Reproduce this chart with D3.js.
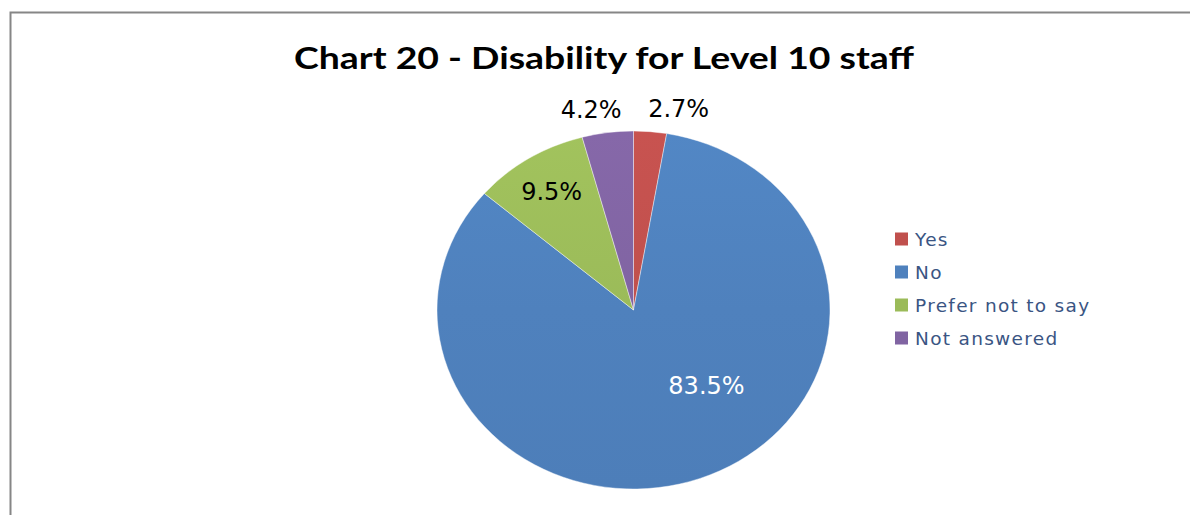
<!DOCTYPE html>
<html>
<head>
<meta charset="utf-8">
<script src="https://cdn.jsdelivr.net/npm/d3@7"></script>
<style>
  html, body { margin: 0; padding: 0; background: #fff; }
  svg { display: block; }
</style>
</head>
<body>
<svg id="chart" width="1190" height="515"></svg>
<script>
const categories = ["Yes", "No", "Prefer not to say", "Not answered"];
const values = [2.7, 83.5, 9.5, 4.2];
const labels = ["2.7%", "83.5%", "9.5%", "4.2%"];
const colors = ["#C0504D", "#4F81BD", "#9BBB59", "#8064A2"];
const title = "Chart 20 - Disability for Level 10 staff";

const svg = d3.select("#chart");

// chart area border
svg.append("rect")
  .attr("x", 10.5).attr("y", 12.5)
  .attr("width", 1200).attr("height", 520)
  .attr("fill", "#fff")
  .attr("stroke", "#868686").attr("stroke-width", 2);

// title
svg.append("text")
  .attr("x", 604).attr("y", 69)
  .attr("text-anchor", "middle")
  .attr("font-family", "Lato, 'Open Sans', sans-serif")
  .attr("font-weight", "bold")
  .attr("font-size", 31)
  .attr("textLength", 620)
  .attr("lengthAdjust", "spacingAndGlyphs")
  .attr("fill", "#000")
  .text(title);

// pie
const cx = 633.5, cy = 310, ry = 179, rx = 196.5;
const sx = rx / ry;
const pie = d3.pie().sort(null).value(d => d)(values);
const arc = d3.arc().innerRadius(0).outerRadius(ry);

const g = svg.append("g")
  .attr("transform", `translate(${cx},${cy}) scale(${sx},1)`);

const defs = svg.append("defs");
colors.forEach((c, i) => {
  const grad = defs.append("linearGradient")
    .attr("id", "grad" + i)
    .attr("gradientUnits", "userSpaceOnUse")
    .attr("x1", 0).attr("y1", -ry).attr("x2", 0).attr("y2", ry);
  grad.append("stop").attr("offset", "0%").attr("stop-color", d3.color(c).brighter(0.12));
  grad.append("stop").attr("offset", "50%").attr("stop-color", c);
  grad.append("stop").attr("offset", "100%").attr("stop-color", d3.color(c).darker(0.06));
});

g.selectAll("path.slice")
  .data(pie)
  .join("path")
  .attr("class", "slice")
  .attr("d", arc)
  .attr("fill", (d, i) => `url(#grad${i})`)
  .attr("stroke", "#fff")
  .attr("stroke-width", 0.4);

// data labels
function ellPoint(angle, frac) {
  return [cx + Math.sin(angle) * rx * frac, cy - Math.cos(angle) * ry * frac];
}
const labelFont = "'DejaVu Sans', Verdana, sans-serif";
pie.forEach((d, i) => {
  const mid = (d.startAngle + d.endAngle) / 2;
  const share = d.value / d3.sum(values);
  let x, y, anchor, fill = "#000";
  if (share < 0.05) {
    // outside end
    const p = ellPoint(mid, 1.0);
    const right = Math.sin(mid) >= 0;
    x = p[0] + (right ? -2 : 14);
    y = p[1] - 14.5;
    anchor = right ? "start" : "end";
  } else if (share < 0.5) {
    const p = ellPoint(mid, 0.78);
    x = p[0]; y = p[1] + 8;
    anchor = "middle";
  } else {
    const p = ellPoint(mid, 0.45);
    x = p[0] + 43; y = p[1] + 8;
    anchor = "middle";
    fill = "#fff";
  }
  svg.append("text")
    .attr("x", x).attr("y", y)
    .attr("text-anchor", anchor)
    .attr("font-family", labelFont)
    .attr("font-size", 24)
    .attr("fill", fill)
    .text(labels[i]);
});

// legend
const legend = svg.append("g").attr("transform", "translate(895,239)");
const rows = legend.selectAll("g")
  .data(categories)
  .join("g")
  .attr("transform", (d, i) => `translate(0,${i * 33})`);
rows.append("rect")
  .attr("x", 0).attr("y", -6.5)
  .attr("width", 13).attr("height", 13)
  .attr("fill", (d, i) => colors[i]);
rows.append("text")
  .attr("x", 20).attr("y", 7)
  .attr("font-family", labelFont)
  .attr("font-size", 18.5)
  .attr("letter-spacing", 1.3)
  .attr("fill", "#3a5583")
  .text(d => d);
</script>
</body>
</html>
